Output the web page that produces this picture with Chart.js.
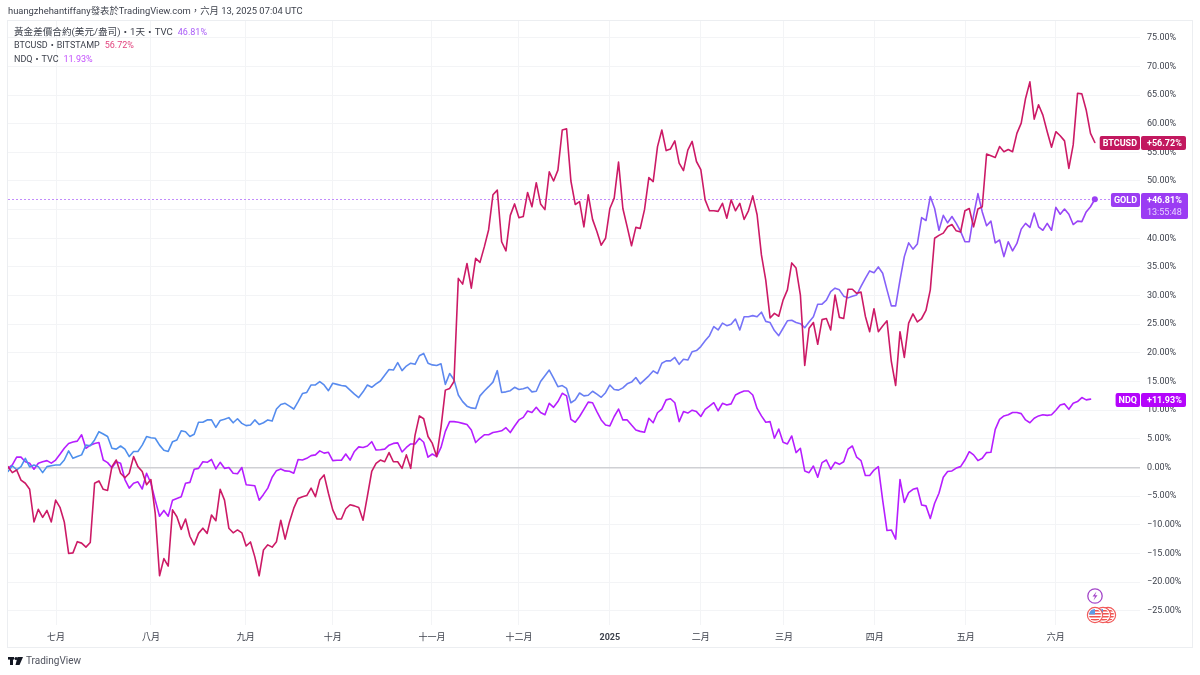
<!DOCTYPE html>
<html lang="zh-Hant">
<head>
<meta charset="utf-8">
<title>TradingView comparison</title>
<script src="https://cdn.jsdelivr.net/npm/chart.js@4"></script>
<style>html,body{margin:0;padding:0;background:#fff}canvas{display:block}</style>
</head>
<body>
<canvas id="c" width="1200" height="675"></canvas>
<script>
const btc = [
.15,-.9,-.44,-2.2,-2.75,-3.8,-9.5,-7.3,-8.7,-7.5,
-9.5,-5.7,-6.95,-9.5,-15,-14.9,-12.95,-13.2,-13.9,-13.1,
-2.75,-2.35,-3.8,-4,.15,1.3,-1,-1.8,-1,1.9,
.15,-.7,-3,-2.1,-8,-18.9,-15.9,-17.2,-7.4,-8.6,
-10.8,-9,-12,-13.5,-11.5,-10.6,-11.5,-8.3,-9.3,-3.8,
-5.7,-10.6,-11.4,-10.9,-11.4,-13.7,-13,-15.6,-18.9,-14.4,
-13.5,-13.9,-12.95,-9.2,-12.5,-9.5,-7.1,-5.4,-5.1,-4.9,
-3.6,-5.1,-2.2,-1.3,-4.5,-7.4,-9,-9,-7.2,-6.5,
-6.7,-7,-9.2,-5,-.7,.7,1.3,1,2.6,1,
1,-.15,2.2,-.15,5.6,9,8.5,5.4,4.2,1.9,
7,13.5,13.8,15,33,32,35.6,31.3,36.5,35.8,
38.5,41.5,47.6,48.4,39.4,37.8,44,46,43.6,43.8,
48,45.5,49.7,46,45,51.6,50,51.9,58.9,59.1,
50,45.9,46.4,42,47.6,43.3,41.2,38.8,40,45.2,
47,53.3,45.2,42,38.7,41.9,41.7,45,50.6,49.9,
56,58.9,55.3,55.6,57,53.1,51.8,55.4,56.9,53.4,
52,46.7,44.8,44.8,44.7,46.1,43.5,46.7,44.8,46.1,
43.3,44.8,47.4,44.1,37.1,32.7,26.1,26.9,26.4,29.2,
31,35.7,34.8,30.1,17.8,24.3,25.3,21.5,25.8,26,
24,30.1,26.2,26,31.1,31.1,30.4,30.6,26.4,23.7,
27.7,23.7,24.7,25.6,18.5,14.3,23.7,19.2,25.2,26.8,
25.4,26,27.4,31,40,40.5,40.9,42,42.4,41.3,
41.1,44.8,45.2,42,45.1,45.5,54.7,54.4,54.1,56,
55.1,55.5,55.1,58.3,60.1,64.4,67.3,60.8,63.3,61.5,
58.6,55.9,58.6,57.9,57,52.2,56.3,65.3,65.2,62.4,
58.3,56.72];
const gold = [
-.7,.3,-.4,.15,1.6,.1,.44,.15,-.9,.15,
.3,.44,.44,1.3,2.9,1.6,1.9,2.2,3.9,3.8,
4.8,6.25,5.85,5.4,3.35,3.2,3.75,3.2,1.9,2.8,
2.8,3.9,5.4,5.2,5.1,3.9,3,2.8,4.5,4.8,
6.4,6.25,5.4,5.8,7.9,7.9,8.3,8.3,7,8.2,
8.4,8.7,7.8,8.5,7.7,7.3,7.4,8.3,7.5,7.8,
8.3,8.1,10.2,11,11.2,10.7,10.2,11.5,12.9,13.1,
14.4,14.4,15,14.4,13.4,14.7,14.5,14.3,14.2,13.5,
12.8,12.2,13.2,14.4,14,14.6,15.1,16.1,17.1,17,
18.3,16.9,17.7,18.2,18,19.5,19.9,18.2,17.9,17.8,
18.1,14.5,16.4,15.3,12.65,11.5,10.7,10.4,10.3,12.5,
13.35,14.1,14.9,16.9,13.1,13.2,13.4,14,13.6,13.75,
14,13.2,13.3,15,16,17,15.6,14.1,14.3,13.8,
11.3,11.8,13,12.5,12.6,13.3,12.8,12.25,13.05,14.4,
13.6,13.5,13.9,14.6,14.9,15.7,14.6,15.3,16,16.85,
16.4,18.2,18.6,18.6,19.2,18,18.9,18.75,20.2,20.4,
21.1,22.1,23,24.6,24,25.2,24.75,25,25.9,24,
26.3,26.3,26.5,26.3,27.1,25.5,25.3,23.9,23,24.3,
25.6,25.7,25.3,25.1,24.4,25.4,26.3,28.5,28.5,29.2,
30.7,31.3,31,29.9,29.6,29.9,30.1,31.6,33,34.3,
34,35,33.9,31,28.2,28.2,32.7,36.8,39.2,38.1,
39,43.6,43.1,47.3,45.2,41.4,44,42.7,43.8,42.6,
41.2,39.4,39.4,44,47.8,44.6,42.2,43,39.2,39.7,
36.8,39.4,37.8,39.1,41.6,42.6,41.9,44.4,42,41.4,
42.6,41.4,45.4,44.2,45.1,44.2,42.4,43,42.9,44.6,
45.5,46.81];
const ndq = [
-.15,.44,1.8,1.8,1,.75,-.3,.75,1,1.2,
.75,1.3,2.3,3.35,4.2,4.45,4.6,5.7,3.35,3.9,
4.2,4.35,1.3,.85,-.03,1,.75,-2.1,-3.6,-2.75,
-2.5,-3.75,-1,-2.75,-5.7,-8.5,-7.5,-8.5,-5.7,-5.4,
-5.1,-2.75,-2.6,-.3,-.15,1,.9,1.4,-.25,.9,
-.15,0,-1,-1.1,0,-3,-3.1,-3.2,-5.7,-4.7,
-3.6,-1.7,-.55,-.25,-.6,-.65,-1,1.4,1.3,1.6,
2.07,2.2,2.9,2.5,2.65,1.2,1.25,1.25,2.35,1.3,
2.8,3.6,3.5,3.75,4.5,3.05,3.1,3.2,3.9,4.2,
4.3,2.7,3.5,4.1,4.1,5.1,4.4,1.8,2.35,1.9,
3.5,6.3,8,8,7.9,7.7,7.5,6.55,4.35,5.1,
5.7,5.7,6.1,6.25,6.4,6.95,6.1,7.25,8.3,8.75,
9.85,9.6,10.5,9.6,9.2,11.2,10.5,11.5,12.95,12.5,
8.4,7.9,8.9,10.15,11.4,11.3,9.75,8.3,7.4,7.25,
8.9,10.2,8.3,8.3,7.4,6.55,6.3,6.15,8.6,7.8,
9.55,10.2,11.8,12,11.3,8,9.75,9.5,10,9.75,
8.9,10.15,10.7,11.3,9.9,11.2,10.9,11.1,12.65,13.05,
13.35,13.35,12.65,10.3,9,7.9,8,5.1,6.7,4.4,
4.1,5.5,2.6,3.35,-.6,-.9,.25,-1.7,.85,1.3,
-.3,.9,.55,1,3.2,3.75,1.8,1.2,-1.4,-1.4,
-.45,.15,-5.7,-11,-10.9,-12.5,-2.1,-6.1,-4.4,-3.8,
-3.6,-6.55,-6.7,-8.9,-6.25,-4.5,-1.7,-.7,-.6,-.1,
.15,1.3,2.75,2.2,1.2,1.6,2.6,2.65,6.65,8.4,
9,9.2,9.6,9.6,9.4,8.3,7.8,8.6,9,9.2,
9.1,9.2,10,10.9,11.1,10.15,11.2,11.5,12.2,11.8,
11.93];
const monthLabels = ["七月","八月","九月","十月","十一月","十二月","2025","二月","三月","四月","五月","六月"];
const monthSessions = [11.1,33,54.9,75,97.9,118,139,160,179.2,200.2,221.2,242];
const yTicks = [-25,-20,-15,-10,-5,0,5,10,15,20,25,30,35,40,45,50,55,60,65,70,75];
const headerText = "huangzhehantiffany發表於TradingView.com，六月 13, 2025 07:04 UTC";
const legendNames = ["黃金差價合約(美元/盎司)・1天・TVC","BTCUSD・BITSTAMP","NDQ・TVC"];
const legendValues = ["46.81%","56.72%","11.93%"];
const tagNames = ["BTCUSD","GOLD","NDQ"];
const tagValues = [56.72,46.81,11.93];
const tagCountdown = "13:55:48";
const brandText = "TradingView";

const C_BTC="#cc1a66", C_GOLD="#9c3ff5", C_NDQ="#b61eff", C_TXT="#3e424d";
const FONT='Roboto,"Noto Sans CJK TC",sans-serif';
const LEG_COL=["#a95cf7","#e2457f","#c24dfc"];
const TAG_COL=["#c2185f","#9b3cf3","#b404fb"];
const LEG_SIZE=[9.6,9,9];

function toXY(a){return a.map((v,i)=>({x:i,y:v}));}
function goldStroke(c){
  const a=c.chart.chartArea;
  if(!a) return C_GOLD;
  const g=c.chart.ctx.createLinearGradient(a.left,0,1095,0);
  g.addColorStop(0,"#4a92ec");g.addColorStop(.45,"#5f87ef");g.addColorStop(.72,"#7c6ffa");g.addColorStop(1,"#9c3ff5");
  return g;
}
function rr(x,y,w,h,col){const k=cx;k.fillStyle=col;k.beginPath();k.roundRect(x,y,w,h,2);k.fill();}
let cx;

const deco={
  id:"deco",
  beforeDatasetsDraw(ch){
    const k=ch.ctx,a=ch.chartArea,y=ch.scales.y.getPixelForValue(tagValues[1]);
    k.save();k.strokeStyle="#c28cfc";k.lineWidth=1;k.setLineDash([2,2]);
    k.beginPath();k.moveTo(a.left,Math.round(y)+.5);k.lineTo(a.right,Math.round(y)+.5);k.stroke();k.restore();
  },
  afterDraw(ch){
    const k=ch.ctx,a=ch.chartArea,ys=ch.scales.y;cx=k;
    k.save();
    // frame
    k.strokeStyle="#eceef1";k.lineWidth=1;
    k.strokeRect(7.5,20.5,1185,627);
    // header
    k.textBaseline="middle";k.textAlign="left";
    k.fillStyle=C_TXT;k.font="9.4px "+FONT;
    k.fillText(headerText,8,11.5);
    // legend
    const rows=[33,46,59.5];
    rows.forEach((yy,i)=>{
      k.font=LEG_SIZE[i]+"px "+FONT;k.fillStyle=C_TXT;
      k.fillText(legendNames[i],14,yy);
      const w=k.measureText(legendNames[i]).width;
      k.font="9px "+FONT;k.fillStyle=LEG_COL[i];k.fillText(legendValues[i],14+w+5,yy);
    });
    // price tags
    const TAGF="bold 9px "+FONT;
    k.font=TAGF;
    tagNames.forEach((n,i)=>{
      const py=Math.round(ys.getPixelForValue(tagValues[i]))+1;
      const nw=k.measureText(n).width+6;
      rr(1140-nw,py-7,nw,14,TAG_COL[i]);
      const vh=i===1?26:14;
      rr(1141,py-7,i===1?47:45,vh,TAG_COL[i]);
      k.fillStyle="#fff";k.textAlign="left";
      k.fillText(n,1140-nw+3,py+.5);
      k.fillText("+"+tagValues[i].toFixed(2)+"%",1147,py+.5);
      if(i===1){k.font="9px "+FONT;k.fillStyle="#e6d2ff";k.fillText(tagCountdown,1147,py+12.5);k.font=TAGF;}
    });
    // events
    k.lineWidth=1.3;k.strokeStyle="#a447c9";k.fillStyle="#fff";
    k.beginPath();k.arc(1095,596,7.2,0,7);k.fill();k.stroke();
    k.fillStyle="#a447c9";k.beginPath();
    k.moveTo(1096.5,591.5);k.lineTo(1092.5,596.5);k.lineTo(1095,596.5);k.lineTo(1093.5,600.5);k.lineTo(1097.5,595.2);k.lineTo(1095,595.2);k.closePath();k.fill();
    [1108,1103,1095].forEach(x=>{
      k.save();k.beginPath();k.arc(x,615,7.6,0,7);k.fillStyle="#fff";k.fill();k.strokeStyle="#f15b5b";k.lineWidth=1.2;k.stroke();
      k.beginPath();k.arc(x,615,6,0,7);k.clip();
      k.fillStyle="#fff";k.fillRect(x-6,609,12,12);
      k.fillStyle="#ef5350";for(let s=0;s<4;s++)k.fillRect(x-6,610+s*3,12,1.5);
      k.fillStyle="#5c9be6";k.fillRect(x-6,609,6,5.5);
      k.restore();
    });
    // brand
    k.fillStyle="#131722";
    k.fillRect(8,657,6,2.6);k.fillRect(10,657,3,8);
    k.beginPath();k.arc(16,658.5,1.6,0,7);k.fill();
    k.beginPath();k.moveTo(17.5,657);k.lineTo(23,657);k.lineTo(19.5,665);k.lineTo(15.5,665);k.closePath();k.fill();
    k.textAlign="left";k.fillStyle="#50535e";k.font="10px "+FONT;
    k.fillText(brandText,26,661.5);
    k.restore();
  }
};

new Chart(document.getElementById("c"),{
  type:"line",
  data:{datasets:[
    {label:"GOLD",data:toXY(gold),borderColor:goldStroke,backgroundColor:C_GOLD,borderWidth:1.6,order:2,
     pointRadius:c=>c.dataIndex===gold.length-1?3:0,pointBackgroundColor:C_GOLD,pointBorderWidth:0},
    {label:"BTCUSD",data:toXY(btc),borderColor:C_BTC,borderWidth:1.6,pointRadius:0,order:1},
    {label:"NDQ",data:toXY(ndq),borderColor:C_NDQ,borderWidth:1.6,pointRadius:0,order:3}
  ]},
  options:{
    responsive:false,animation:false,devicePixelRatio:1,
    layout:{padding:{left:8,right:8,top:21,bottom:28}},
    elements:{line:{tension:0,borderCapStyle:"round",borderJoinStyle:"round"}},
    plugins:{legend:{display:false},tooltip:{enabled:false}},
    scales:{
      x:{type:"linear",min:0,max:261.43,
        border:{display:false},
        afterBuildTicks:s=>{s.ticks=monthSessions.map(v=>({value:v}));},
        afterFit:s=>{s.height=22;},
        grid:{color:"#f3f4f6",lineWidth:1,drawTicks:false},
        ticks:{autoSkip:false,maxRotation:0,padding:7,color:C_TXT,
          font:c=>({family:FONT,size:9,weight:c.index===6?"bold":"normal"}),
          callback:(v,i)=>monthLabels[i]}
      },
      y:{type:"linear",position:"right",min:-27.49,max:77.92,
        border:{display:false},
        afterBuildTicks:s=>{s.ticks=yTicks.map(v=>({value:v}));},
        afterFit:s=>{s.width=52;},
        grid:{drawTicks:false,color:c=>c.tick&&c.tick.value===0?"#cfd0d4":"#f3f4f6",lineWidth:c=>c.tick&&c.tick.value===0?1.5:1},
        ticks:{autoSkip:false,padding:7,color:C_TXT,font:{family:FONT,size:9},
          callback:v=>(v<0?"−":"")+Math.abs(v).toFixed(2)+"%"}
      }
    }
  },
  plugins:[deco]
});
</script>
</body>
</html>
